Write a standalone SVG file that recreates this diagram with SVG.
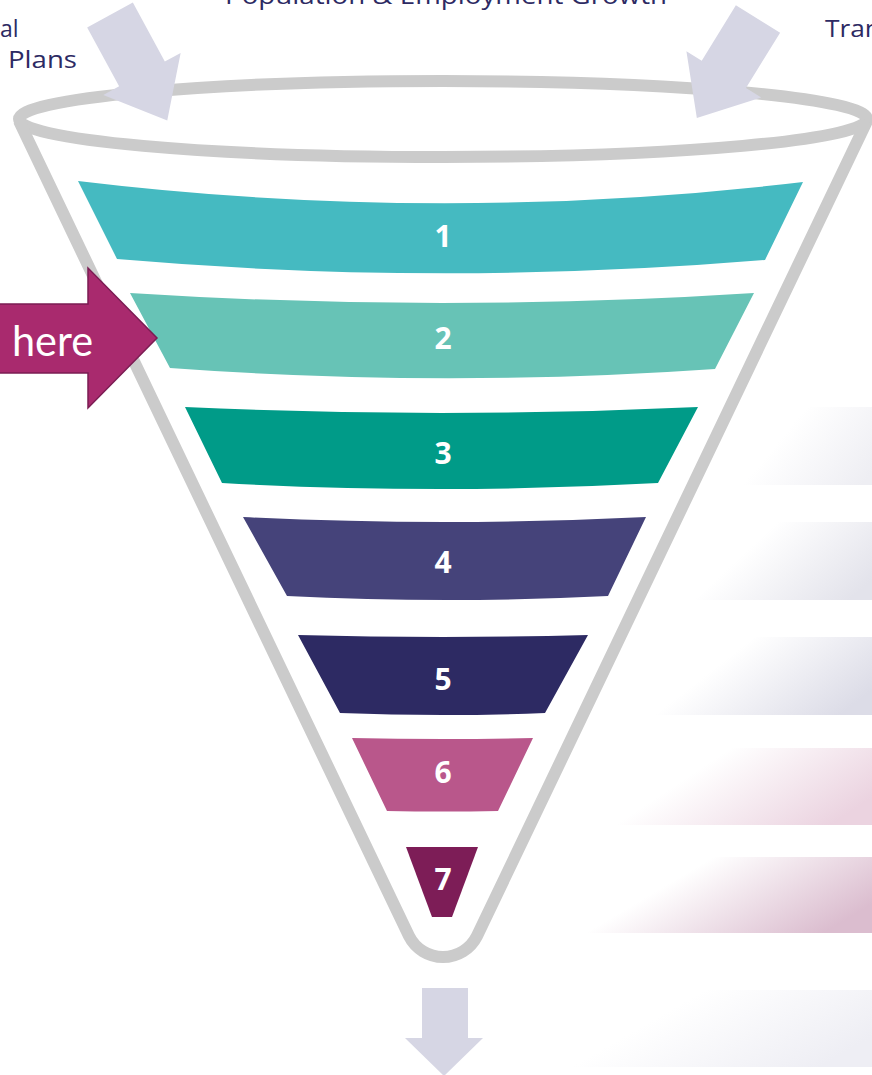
<svg xmlns="http://www.w3.org/2000/svg" width="872" height="1075" viewBox="0 0 872 1075">
  <defs>
    <style>
      .outline { fill: none; stroke: #cbcbcb; stroke-width: 12; }
      .inarrow { fill: #d6d6e4; }
      .num { fill: #ffffff; font-family: "Open Sans", "DejaVu Sans", sans-serif; font-weight: 700; font-size: 30px; text-anchor: middle; }
      .lbl { fill: #2d2a63; font-family: "Open Sans", "DejaVu Sans", sans-serif; font-size: 23px; }
    </style>
    <linearGradient id="gA" x1="0" y1="0" x2="1" y2="0.4"><stop offset="0" stop-color="#eeeef3" stop-opacity="0"/><stop offset="0.36" stop-color="#eeeef3" stop-opacity="0"/><stop offset="1" stop-color="#eeeef3"/></linearGradient>
    <linearGradient id="gB" x1="0" y1="0" x2="1" y2="0.4"><stop offset="0" stop-color="#e3e3eb" stop-opacity="0"/><stop offset="0.36" stop-color="#e3e3eb" stop-opacity="0"/><stop offset="1" stop-color="#e3e3eb"/></linearGradient>
    <linearGradient id="gC" x1="0" y1="0" x2="1" y2="0.4"><stop offset="0" stop-color="#dcdce7" stop-opacity="0"/><stop offset="0.36" stop-color="#dcdce7" stop-opacity="0"/><stop offset="1" stop-color="#dcdce7"/></linearGradient>
    <linearGradient id="gD" x1="0" y1="0" x2="1" y2="0.4"><stop offset="0" stop-color="#ebd3e0" stop-opacity="0"/><stop offset="0.36" stop-color="#ebd3e0" stop-opacity="0"/><stop offset="1" stop-color="#ebd3e0"/></linearGradient>
    <linearGradient id="gE" x1="0" y1="0" x2="1" y2="0.4"><stop offset="0" stop-color="#dbbdcf" stop-opacity="0"/><stop offset="0.36" stop-color="#dbbdcf" stop-opacity="0"/><stop offset="1" stop-color="#dbbdcf"/></linearGradient>
    <linearGradient id="gF" x1="0" y1="0" x2="1" y2="0.4"><stop offset="0" stop-color="#eeeef4" stop-opacity="0"/><stop offset="0.36" stop-color="#eeeef4" stop-opacity="0"/><stop offset="1" stop-color="#eeeef4"/></linearGradient>
    <polygon id="inArrowShape" points="-26,0 26,0 26,67 44,67 0,120 -44,67 -26,67"/>
  </defs>

  <rect width="872" height="1075" fill="#ffffff"/>

  <g id="side-bars">
    <rect x="740" y="407" width="160" height="78" fill="url(#gA)"/>
    <rect x="690" y="522" width="210" height="78" fill="url(#gB)"/>
    <rect x="650" y="637" width="250" height="78" fill="url(#gC)"/>
    <rect x="610" y="748" width="290" height="77" fill="url(#gD)"/>
    <rect x="580" y="857" width="320" height="76" fill="url(#gE)"/>
    <rect x="565" y="990" width="335" height="77" fill="url(#gF)"/>
  </g>

  <g id="labels">
    <text class="lbl" x="225" y="4" textLength="442" lengthAdjust="spacingAndGlyphs">Population &amp; Employment Growth</text>
    <text class="lbl" x="0" y="37">al</text>
    <text class="lbl" x="8" y="68" textLength="69" lengthAdjust="spacingAndGlyphs">Plans</text>
    <text class="lbl" x="825" y="37" textLength="56" lengthAdjust="spacingAndGlyphs">Tran</text>
  </g>

  <g id="funnel">
    <ellipse class="outline" cx="443" cy="119" rx="424" ry="38"/>
    <path class="outline" d="M19,121 L409,936 A38,38 0 0 0 477,936 L867,121"/>
  </g>

  <g id="band-1">
    <path d="M78,181 Q441,225 803,182 L765,260 Q441,287 117,259 Z" fill="#45bac1"/>
    <text class="num" x="443" y="247">1</text>
  </g>
  <g id="band-2">
    <path d="M130,293 Q442,313 754,293 L715,369 Q442,388 170,368 Z" fill="#67c3b6"/>
    <text class="num" x="443" y="349">2</text>
  </g>
  <g id="band-3">
    <path d="M185,407 Q441,419 698,407 L658,483 Q441,495 222,483 Z" fill="#009b88"/>
    <text class="num" x="443" y="464">3</text>
  </g>
  <g id="band-4">
    <path d="M243,517 Q444,527 646,517 L608,596 Q447,604 287,596 Z" fill="#45437a"/>
    <text class="num" x="443" y="573">4</text>
  </g>
  <g id="band-5">
    <path d="M298,635 Q443,639 588,635 L545,713 Q443,717 340,713 Z" fill="#2d2a63"/>
    <text class="num" x="443" y="690">5</text>
  </g>
  <g id="band-6">
    <path d="M352,738 Q443,740 533,738 L498,811 Q443,812 387,811 Z" fill="#b9578b"/>
    <text class="num" x="443" y="783">6</text>
  </g>
  <g id="band-7">
    <path d="M406,847 L478,847 L452,917 L432,917 Z" fill="#7d1d57"/>
    <text class="num" x="443" y="890">7</text>
  </g>

  <g id="connectors">
    <use href="#inArrowShape" class="inarrow" transform="translate(110,15) rotate(-28.5)"/>
    <use href="#inArrowShape" class="inarrow" transform="translate(758,19) rotate(31.7) scale(1,0.97)"/>
    <polygon class="inarrow" points="422,988 468,988 468,1038 483,1038 444,1076 405,1038 422,1038"/>
  </g>

  <g id="here-arrow">
    <polygon points="-5,304 88,304 88,268 157,338 88,408 88,373 -5,373" fill="#a92a6e" stroke="#7b1c53" stroke-width="1.5"/>
    <text x="12" y="356" fill="#ffffff" font-family="Lato, 'Open Sans', sans-serif" font-size="42" textLength="81" lengthAdjust="spacingAndGlyphs">here</text>
  </g>
</svg>
